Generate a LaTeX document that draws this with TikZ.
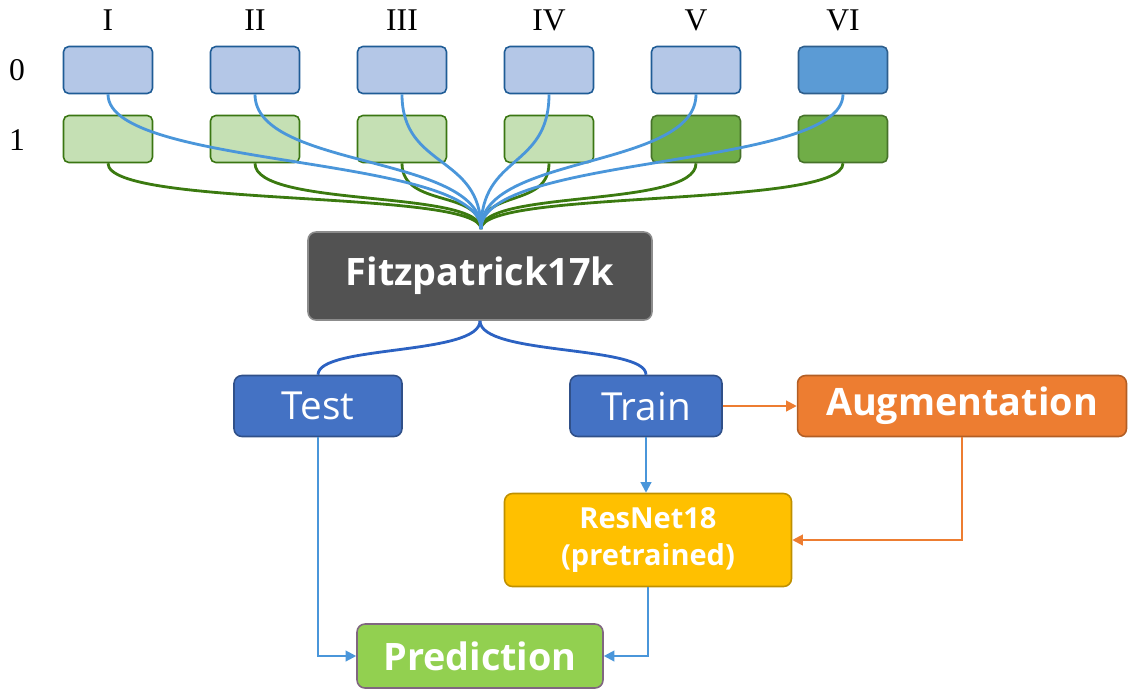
\documentclass[tikz,border=0pt]{standalone}
\usepackage{fontspec}
\setmainfont{Liberation Serif}
\newfontfamily\boxfont{Open Sans}
\usetikzlibrary{arrows.meta}
\definecolor{zfill}{HTML}{B4C7E7}
\definecolor{zbord}{HTML}{1F5C96}
\definecolor{zdark}{HTML}{5B9BD5}
\definecolor{zdbord}{HTML}{2E5E8C}
\definecolor{ofill}{HTML}{C5E0B4}
\definecolor{obord}{HTML}{3A7612}
\definecolor{odark}{HTML}{70AD47}
\definecolor{odbord}{HTML}{46722A}
\definecolor{fitzcol}{HTML}{525252}
\definecolor{splitcol}{HTML}{4472C4}
\definecolor{augcol}{HTML}{ED7D31}
\definecolor{rescol}{HTML}{FFC000}
\definecolor{predcol}{HTML}{92D050}
\definecolor{bline}{HTML}{4A96DA}
\definecolor{gline}{HTML}{3B7A10}
\definecolor{sline}{HTML}{2C62C2}
\tikzset{grp/.style={rounded corners=3pt,line width=0.9pt,minimum width=1.78cm,minimum height=0.94cm,inner sep=0pt}}
\tikzset{zero/.style={grp,draw=zbord,fill=zfill}}
\tikzset{zerodark/.style={grp,draw=zdbord,fill=zdark}}
\tikzset{one/.style={grp,draw=obord,fill=ofill}}
\tikzset{onedark/.style={grp,draw=odbord,fill=odark}}
\tikzset{block/.style={rounded corners=4.5pt,line width=0.9pt,inner sep=0pt,text=white,align=center}}
\tikzset{big/.style={font=\boxfont\fontsize{22}{26}\selectfont}}
\tikzset{bigbold/.style={font=\boxfont\fontsize{21.5}{26}\selectfont\bfseries}}
\tikzset{curve/.style={line width=1.6pt}}
\tikzset{edge/.style={-{Triangle[length=6pt,width=6pt]},line width=1.2pt}}

\begin{document}
\begin{tikzpicture}[x=0.02cm,y=-0.02cm]
\useasboundingbox (0,0) rectangle (1136,698);

\node (lI) at (108,20) {\fontsize{18}{20}\selectfont I};
\node (lII) at (255,20) {\fontsize{18}{20}\selectfont II};
\node (lIII) at (402,20) {\fontsize{18}{20}\selectfont III};
\node (lIV) at (549,20) {\fontsize{18}{20}\selectfont IV};
\node (lV) at (696,20) {\fontsize{18}{20}\selectfont V};
\node (lVI) at (843,20) {\fontsize{18}{20}\selectfont VI};
\node (r0) at (17,70) {\fontsize{18}{20}\selectfont 0};
\node (r1) at (17,140) {\fontsize{18}{20}\selectfont 1};

\node [zero] (z1) at (108,70) {};
\node [zero] (z2) at (255,70) {};
\node [zero] (z3) at (402,70) {};
\node [zero] (z4) at (549,70) {};
\node [zero] (z5) at (696,70) {};
\node [zerodark] (z6) at (843,70) {};

\node [one] (o1) at (108,139) {};
\node [one] (o2) at (255,139) {};
\node [one] (o3) at (402,139) {};
\node [one] (o4) at (549,139) {};
\node [onedark] (o5) at (696,139) {};
\node [onedark] (o6) at (843,139) {};

\coordinate (hub) at (481,229);

\draw [gline,curve] (o1.south) .. controls +(0,45) and +(0,-40) .. (hub);
\draw [gline,curve] (o2.south) .. controls +(0,45) and +(0,-40) .. (hub);
\draw [gline,curve] (o3.south) .. controls +(0,45) and +(0,-40) .. (hub);
\draw [gline,curve] (o4.south) .. controls +(0,45) and +(0,-40) .. (hub);
\draw [gline,curve] (o5.south) .. controls +(0,45) and +(0,-40) .. (hub);
\draw [gline,curve] (o6.south) .. controls +(0,45) and +(0,-40) .. (hub);

\draw [bline,curve] (z1.south) .. controls +(0,75) and +(0,-75) .. (hub);
\draw [bline,curve] (z2.south) .. controls +(0,75) and +(0,-75) .. (hub);
\draw [bline,curve] (z3.south) .. controls +(0,75) and +(0,-75) .. (hub);
\draw [bline,curve] (z4.south) .. controls +(0,75) and +(0,-75) .. (hub);
\draw [bline,curve] (z5.south) .. controls +(0,75) and +(0,-75) .. (hub);
\draw [bline,curve] (z6.south) .. controls +(0,75) and +(0,-75) .. (hub);

\node [block,bigbold,draw=gray!90,fill=fitzcol,minimum width=6.88cm,minimum height=1.76cm] (fitz) at (480,276) {Fitzpatrick17k};

\node [block,big,draw=splitcol!70!black,fill=splitcol,minimum width=3.36cm,minimum height=1.22cm] (test) at (318,406) {Test};
\node [block,big,draw=splitcol!70!black,fill=splitcol,minimum width=3.04cm,minimum height=1.22cm] (train) at (646,406) {Train};
\node [block,bigbold,draw=augcol!75!black,fill=augcol,minimum width=6.58cm,minimum height=1.22cm] (aug) at (962,406) {Augmentation};
\node [block,font=\boxfont\fontsize{16.5}{21}\selectfont\bfseries,draw=rescol!75!black,fill=rescol,minimum width=5.74cm,minimum height=1.86cm] (res) at (648,540) {ResNet18\\(pretrained)};
\node [block,bigbold,draw=gray!80!violet,fill=predcol,minimum width=4.92cm,minimum height=1.28cm] (pred) at (480,656) {Prediction};

\draw [sline,curve] (fitz.south) .. controls +(0,35) and +(0,-30) .. (test.north);
\draw [sline,curve] (fitz.south) .. controls +(0,35) and +(0,-30) .. (train.north);

\draw [augcol,edge] (train.east) -- (aug.west);
\draw [augcol,edge] (aug.south) |- (res.east);
\draw [bline,edge] (train.south) -- (train.south |- res.north);
\draw [bline,edge] (test.south) |- (pred.west);
\draw [bline,edge] (res.south) |- (pred.east);
\end{tikzpicture}
\end{document}
